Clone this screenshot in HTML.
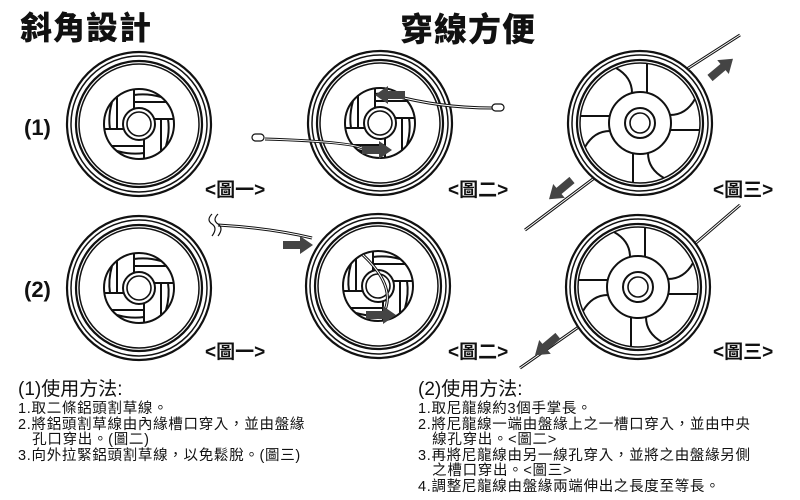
<!DOCTYPE html>
<html><head><meta charset="utf-8"><style>
html,body{margin:0;padding:0;background:#fff;}
body{width:800px;height:500px;overflow:hidden;position:relative;font-family:"Liberation Sans","Noto Sans CJK TC",sans-serif;}
.t{position:absolute;color:#111;white-space:nowrap;}
.b{font-size:14.5px;line-height:15.6px;letter-spacing:0.7px;}
</style></head><body>
<svg width="800" height="500" viewBox="0 0 800 500" style="position:absolute;left:0;top:0">
<defs>
<g id="rim" fill="none" stroke="#111">
<circle r="72" stroke-width="2.2" fill="#fff"/>
<circle r="68" stroke-width="1.5"/>
<circle r="63" stroke-width="2.2"/>
<circle r="60" stroke-width="1.5"/>
</g>
<g id="w1">
<use href="#rim"/>
<g fill="none" stroke="#111" stroke-width="2">
<circle r="35"/>
<circle r="16"/>
<circle r="12" stroke-width="1.6"/>
<g id="bl"><path d="M-5,-35 L-5,-15 M-5,-22 L28,-22 M-5,-29 Q8,-31 22,-27"/></g>
<use href="#bl" transform="rotate(90)"/>
<use href="#bl" transform="rotate(180)"/>
<use href="#bl" transform="rotate(270)"/>
</g>
</g>
<g id="w2">
<use href="#rim"/>
<g fill="none" stroke="#111" stroke-width="2">
<circle r="31"/>
<circle r="15"/>
<circle r="10" stroke-width="1.6"/>
<g id="sp"><path d="M-8,-30 Q-8,-46 -24,-55 M7,-30 L7,-60"/></g>
<use href="#sp" transform="rotate(90)"/>
<use href="#sp" transform="rotate(180)"/>
<use href="#sp" transform="rotate(270)"/>
</g>
</g>
<g id="arr"><path d="M0,-4 L17,-4 L17,-9 L30,0 L17,9 L17,4 L0,4 Z" fill="#444"/></g>
</defs>
<g fill="none" stroke="#111" stroke-width="3">
<path d="M525,230 L605,170 M676,76 L740,35 M520,368 L600,312 M676,260 L740,205"/>
</g>
<g fill="none" stroke="#fff" stroke-width="1">
<path d="M525,230 L605,170 M676,76 L740,35 M520,368 L600,312 M676,260 L740,205"/>
</g>
<use href="#w1" x="139" y="124"/>
<use href="#w1" x="139" y="288"/>
<use href="#w1" x="380" y="123"/>
<use href="#w1" x="378" y="286"/>
<use href="#w2" x="640" y="123"/>
<use href="#w2" x="638" y="287"/>
<g fill="none" stroke="#111" stroke-width="3">
<path d="M265,139 Q360,142 365,150"/>
<path d="M392,95 Q440,108 492,108"/>
<path d="M218,225 Q270,228 312,238"/>
<path d="M363,255 Q395,285 385,310"/>
</g>
<g fill="none" stroke="#fff" stroke-width="1">
<path d="M265,139 Q360,142 365,150"/>
<path d="M392,95 Q440,108 492,108"/>
<path d="M218,225 Q270,228 312,238"/>
<path d="M363,255 Q395,285 385,310"/>
</g>
<g fill="#fff" stroke="#111" stroke-width="1.2">
<rect x="252" y="134" width="12" height="7" rx="3.5"/>
<rect x="492" y="104" width="12" height="7" rx="3.5"/>
<path fill="none" d="M212,214 q-6,6 0,10 q6,4 0,12 M218,214 q-6,6 0,10 q6,4 0,12"/>
</g>
<use href="#arr" transform="translate(362,150)"/>
<use href="#arr" transform="translate(405,95) rotate(180)"/>
<use href="#arr" transform="translate(283,245)"/>
<use href="#arr" transform="translate(366,315)"/>
<use href="#arr" transform="translate(710,78) rotate(-40)"/>
<use href="#arr" transform="translate(572,180) rotate(140)"/>
<use href="#arr" transform="translate(558,336) rotate(140)"/>
</svg>
<div class="t" style="left:20px;top:3px;font-size:32px;font-weight:900;letter-spacing:1px">斜角設計</div>
<div class="t" style="left:400px;top:3px;font-size:33px;font-weight:900;letter-spacing:1px">穿線方便</div>
<div class="t" style="left:24px;top:115px;font-size:22px;font-weight:bold">(1)</div>
<div class="t" style="left:24px;top:277px;font-size:22px;font-weight:bold">(2)</div>
<div class="t" style="left:205px;top:175px;font-size:19px;font-weight:bold">&lt;圖一&gt;</div>
<div class="t" style="left:448px;top:175px;font-size:19px;font-weight:bold">&lt;圖二&gt;</div>
<div class="t" style="left:713px;top:175px;font-size:19px;font-weight:bold">&lt;圖三&gt;</div>
<div class="t" style="left:205px;top:337px;font-size:19px;font-weight:bold">&lt;圖一&gt;</div>
<div class="t" style="left:448px;top:337px;font-size:19px;font-weight:bold">&lt;圖二&gt;</div>
<div class="t" style="left:713px;top:337px;font-size:19px;font-weight:bold">&lt;圖三&gt;</div>
<div class="t" style="left:18px;top:374px;font-size:19px">(1)使用方法:</div>
<div class="t b" style="left:18px;top:402px">1.取二條鋁頭割草線。<br>2.將鋁頭割草線由內緣槽口穿入，並由盤緣<br>&nbsp;&nbsp;&nbsp;孔口穿出。(圖二)<br>3.向外拉緊鋁頭割草線，以免鬆脫。(圖三)</div>
<div class="t" style="left:418px;top:374px;font-size:19px">(2)使用方法:</div>
<div class="t b" style="left:418px;top:402px">1.取尼龍線約3個手掌長。<br>2.將尼龍線一端由盤緣上之一槽口穿入，並由中央<br>&nbsp;&nbsp;&nbsp;線孔穿出。&lt;圖二&gt;<br>3.再將尼龍線由另一線孔穿入，並將之由盤緣另側<br>&nbsp;&nbsp;&nbsp;之槽口穿出。&lt;圖三&gt;<br>4.調整尼龍線由盤緣兩端伸出之長度至等長。</div>
</body></html>
